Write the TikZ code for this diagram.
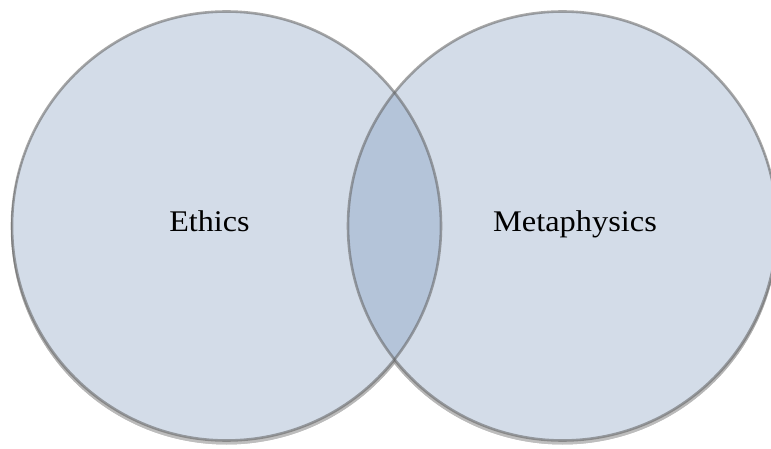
\documentclass[tikz,border=0pt]{standalone}
\usepackage{fontspec}
\setmainfont{Liberation Serif}
\definecolor{setfill}{RGB}{211,220,232}
\definecolor{bothfill}{RGB}{180,196,217}
\definecolor{rim}{RGB}{95,95,95}
\definecolor{shade}{RGB}{200,200,200}
\tikzset{
  setcircle/.style={circle, draw=rim, line width=2.6pt, minimum size=429pt, inner sep=0pt, draw opacity=0.55},
  setlabel/.style={font=\fontsize{30}{33}\selectfont, text=black, inner sep=0pt, anchor=base}
}
\begin{document}
\begin{tikzpicture}[x=1pt,y=-1pt]
  \useasboundingbox[fill=white] (0,0) rectangle (771,449);
  % soft shadows
  \fill[shade, opacity=0.5] (226.5,229) circle[radius=215.5];
  \fill[shade, opacity=0.5] (562.5,229) circle[radius=215.5];
  % fills
  \fill[setfill] (226.5,226) circle[radius=214.5];
  \fill[setfill] (562.5,226) circle[radius=214.5];
  \begin{scope}
    \clip (226.5,226) circle[radius=214.5];
    \fill[bothfill] (562.5,226) circle[radius=214.5];
  \end{scope}
  % outlines
  \node[setcircle] (ethics) at (226.5,226) {};
  \node[setcircle] (meta) at (562.5,226) {};
  % labels
  \node[setlabel] (lethics) at (209.5,232) {\scalebox{1.07}[1]{Ethics}};
  \node[setlabel] (lmeta) at (575,232) {\scalebox{1.08}[1]{Metaphysics}};
\end{tikzpicture}
\end{document}
